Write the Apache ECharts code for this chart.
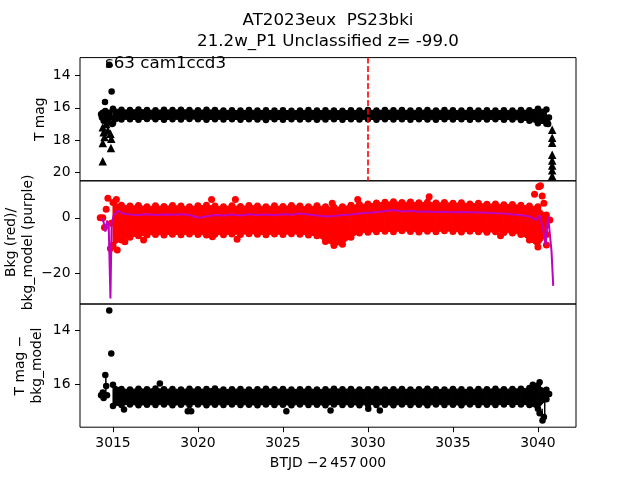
<!DOCTYPE html>
<html><head><meta charset="utf-8">
<script src="https://cdn.jsdelivr.net/npm/echarts@6/dist/echarts.min.js"></script>
<style>html,body{margin:0;padding:0;background:#fff}#c{width:640px;height:480px}</style>
</head><body><div id="c"></div>
<script>
// ---------- data ----------
const titleLine1 = 'AT2023eux  PS23bki';
const titleLine2 = '21.2w_P1 Unclassified z= -99.0';
const sectorText = 's63 cam1ccd3';
const xLabel = 'BTJD \u22122\u2009457\u2009000';
const xTicks = [3015, 3020, 3025, 3030, 3035, 3040];
const p1Ticks = [14, 16, 18, 20];
const p2Ticks = [-20, 0];
const p3Ticks = [14, 16];
const vline = 3030;

// time grid of the dense light-curve band
const t = [3015.0,3015.5,3016.0,3016.5,3017.0,3017.5,3018.0,3018.5,3019.0,3019.5,3020.0,3020.5,3021.0,3021.5,3022.0,3022.5,3023.0,3023.5,3024.0,3024.5,3025.0,3025.5,3026.0,3026.5,3027.0,3027.5,3028.0,3028.5,3029.0,3029.5,3030.0,3030.5,3031.0,3031.5,3032.0,3032.5,3033.0,3033.5,3034.0,3034.5,3035.0,3035.5,3036.0,3036.5,3037.0,3037.5,3038.0,3038.5,3039.0,3039.5,3040.0,3040.5];

// panel 1: T mag band (bright edge / faint edge)
const magHi = [16.05,16.12,16.14,16.10,16.13,16.15,16.12,16.14,16.11,16.13,16.15,16.12,16.14,16.16,16.15,16.17,16.14,16.16,16.15,16.17,16.15,16.18,16.16,16.14,16.17,16.15,16.16,16.18,16.15,16.17,16.14,16.16,16.13,16.15,16.14,16.16,16.15,16.13,16.16,16.14,16.15,16.17,16.14,16.16,16.15,16.17,16.15,16.16,16.14,16.15,16.05,16.10];
const magLo = [16.95,16.72,16.70,16.74,16.69,16.71,16.73,16.70,16.72,16.68,16.71,16.74,16.70,16.72,16.71,16.73,16.70,16.72,16.75,16.71,16.73,16.70,16.72,16.71,16.74,16.72,16.70,16.73,16.71,16.72,16.70,16.74,16.71,16.72,16.70,16.73,16.71,16.72,16.74,16.70,16.72,16.71,16.73,16.70,16.72,16.71,16.73,16.72,16.75,16.80,16.95,16.98];
// panel 1 isolated points
const p1x = [3014.30,3014.35,3014.40,3014.45,3014.50,3014.53,3014.55,3014.60,3014.65,3014.70,3014.78,3014.80,3014.85,3014.92,3014.95,3040.55,3040.60,3040.65];
const p1y = [16.40,16.60,16.30,16.80,16.50,15.64,16.20,16.70,16.40,16.90,13.34,16.30,16.60,14.99,17.00,16.90,17.00,16.60];
// panel 1 upper limits (triangles)
const ulx = [3014.40,3014.45,3014.50,3014.60,3014.70,3014.85,3014.90,3014.40,3014.88,3014.40,3040.84,3040.84,3040.84,3040.84,3040.84,3040.84,3040.84,3040.84];
const uly = [17.20,17.50,17.80,17.00,17.40,17.60,17.90,18.17,18.48,19.30,17.35,17.85,18.15,18.90,19.25,19.55,19.85,20.20];

// panel 2: background band (upper / lower edge)
const bkgHi = [5.5,4.5,4.2,4.4,4.0,4.3,4.1,4.4,4.2,4.0,4.3,4.5,4.2,4.0,4.3,4.1,4.4,4.2,4.0,4.3,4.1,4.4,4.2,4.0,4.3,4.0,3.8,4.0,4.5,4.8,5.0,5.3,5.6,5.8,5.5,5.7,5.4,5.6,5.3,5.5,5.2,5.4,5.0,5.2,4.9,5.0,4.7,4.8,4.5,4.2,4.0,1.0];
const bkgLo = [-10.0,-8.0,-7.0,-6.5,-6.2,-6.0,-6.2,-5.9,-6.1,-5.8,-6.0,-6.2,-5.9,-6.1,-5.8,-6.0,-5.7,-5.9,-6.1,-5.8,-6.0,-5.7,-5.9,-6.2,-6.5,-8.5,-10.0,-9.5,-7.0,-5.5,-5.2,-5.0,-4.8,-5.0,-4.7,-4.9,-5.1,-4.8,-5.0,-4.7,-4.9,-5.1,-4.8,-5.0,-5.2,-5.0,-5.3,-5.5,-6.0,-8.0,-10.5,-6.0];
// panel 2 isolated background points
const bx = [3014.25,3014.40,3014.50,3014.60,3014.70,3014.85,3014.90,3015.20,3015.25,3015.70,3016.80,3020.80,3020.85,3022.20,3022.30,3027.90,3029.40,3033.60,3037.80,3039.80,3040.05,3040.15,3040.25,3040.35,3040.50,3040.70];
const by = [0,0,-3.5,3.1,7,-11,-2,6.6,-11.6,-8.6,-8,6.6,-6.8,6.6,-7.7,5.2,6.6,7.6,-6.5,8.5,11.2,11.5,7.8,5.2,-9.8,-0.8];
// panel 2 background model (purple line)
const mx = [3014.30,3014.45,3014.55,3014.65,3014.75,3014.85,3014.92,3015.05,3015.30,3015.60,3016.0,3016.5,3017.0,3017.5,3018.0,3018.5,3019.0,3019.5,3020.0,3020.5,3021.0,3021.5,3022.0,3022.5,3023.0,3023.5,3024.0,3024.5,3025.0,3025.5,3026.0,3026.5,3027.0,3027.5,3028.0,3028.5,3029.0,3029.5,3030.0,3030.5,3031.0,3031.5,3032.0,3032.5,3033.0,3033.5,3034.0,3034.5,3035.0,3035.5,3036.0,3036.5,3037.0,3037.5,3038.0,3038.5,3039.0,3039.5,3039.9,3040.1,3040.3,3040.45,3040.6,3040.7,3040.8,3040.85,3040.9];
const my = [0.0,-1.5,-5.0,-1.0,-3.0,-29.0,-2.0,1.0,2.5,1.5,1.2,1.0,1.3,1.0,1.2,1.1,1.3,1.0,0.0,0.5,1.0,0.8,1.2,0.8,1.3,1.0,1.2,0.9,1.3,1.1,1.5,1.2,0.8,0.5,0.6,1.0,1.2,1.5,1.8,2.0,2.4,2.8,2.3,2.5,2.2,2.3,2.1,2.2,2.0,2.1,2.0,1.9,1.8,1.6,1.5,1.2,1.0,0.5,-0.8,0.8,-4.0,-9.8,0.5,0.0,-12.0,-12.0,-24.5];

// panel 3: T mag - bkg_model band
const dmHi = [16.02,16.17,16.19,16.16,16.18,16.15,16.18,16.17,16.19,16.16,16.18,16.17,16.15,16.19,16.18,16.17,16.19,16.18,16.16,16.18,16.17,16.19,16.18,16.17,16.19,16.18,16.16,16.18,16.17,16.19,16.18,16.17,16.19,16.18,16.17,16.19,16.18,16.16,16.18,16.19,16.17,16.18,16.19,16.17,16.18,16.16,16.18,16.17,16.16,16.14,16.05,16.20];
const dmLo = [16.80,16.76,16.74,16.77,16.75,16.76,16.74,16.77,16.75,16.76,16.74,16.77,16.75,16.76,16.74,16.76,16.75,16.77,16.74,16.76,16.75,16.77,16.74,16.76,16.75,16.77,16.74,16.76,16.75,16.77,16.74,16.76,16.75,16.77,16.74,16.76,16.75,16.77,16.74,16.76,16.75,16.77,16.74,16.76,16.75,16.76,16.74,16.75,16.74,16.76,16.90,16.55];
const p3x = [3014.30,3014.40,3014.45,3014.55,3014.60,3014.65,3014.78,3014.90,3015.65,3017.76,3019.40,3019.60,3025.20,3027.80,3030.02,3030.70,3039.70,3040.10,3040.10,3040.27,3040.35,3040.66];
const p3y = [16.40,16.30,16.50,15.66,16.06,16.40,13.28,14.86,16.93,15.97,16.99,16.99,16.99,16.96,16.90,16.96,16.02,15.92,17.07,17.33,17.20,16.36];
// panel 3 error bars (x, low, high)
const ebx = [3014.58, 3040.25, 3040.40];
const ebLo = [15.66, 16.90, 16.30];
const ebHi = [16.40, 17.38, 17.20];

// ---------- chart ----------
const FONT = 'DejaVu Sans';
const pairs = (xs, ys) => xs.map((x, i) => [x, ys[i]]);
const minus = v => String(v).replace('-', '\u2212');

const X0 = 3013.06, X1 = 3042.24;
const grids = [
  {left: 80, width: 496, top: 57.6, height: 123.2},
  {left: 80, width: 496, top: 180.8, height: 123.2},
  {left: 80, width: 496, top: 304, height: 123.2}
].map(g => Object.assign(g, {show: true, borderColor: '#000', borderWidth: 1, backgroundColor: 'transparent',
                             containLabel: false, outerBoundsMode: 'none'}));

function xAx(i, showTicks) {
  return {
    type: 'value', gridIndex: i, min: X0, max: X1,
    axisLine: {show: false}, splitLine: {show: false},
    axisTick: {show: showTicks, customValues: xTicks, length: 5, lineStyle: {color: '#000'}},
    axisLabel: {show: showTicks, customValues: xTicks, margin: 9, color: '#000', fontSize: 13.9, fontFamily: FONT, formatter: v => String(v)},
    name: showTicks ? xLabel : '', nameLocation: 'middle', nameGap: 29, nameMoveOverlap: false,
    nameTextStyle: {color: '#000', fontSize: 13.9, fontFamily: FONT}
  };
}
function yAx(i, min, max, ticks, inverse, name, gap) {
  return {
    type: 'value', gridIndex: i, min: min, max: max, inverse: inverse,
    axisLine: {show: false}, splitLine: {show: false},
    axisTick: {show: true, customValues: ticks, length: 5, lineStyle: {color: '#000'}},
    axisLabel: {customValues: ticks, margin: 9.5, color: '#000', fontSize: 13.9, fontFamily: FONT, formatter: minus},
    name: name, nameLocation: 'middle', nameRotate: 90, nameGap: gap, nameMoveOverlap: false,
    nameTextStyle: {color: '#000', fontSize: 13.9, fontFamily: FONT, lineHeight: 17}
  };
}

// dense band: filled polygon between the two edges (through axis coords) + dots on the edges
function band(i, a, b, color, dot) {
  const segs = t.slice(0, -1).map((x, k) => [x, a[k], b[k], t[k + 1], a[k + 1], b[k + 1]]);
  return [
    {type: 'custom', xAxisIndex: i, yAxisIndex: i, silent: true, z: 2,
     encode: {x: [0, 3], y: [1, 2, 4, 5]}, data: segs,
     renderItem: (params, api) => {
       const p0 = api.coord([api.value(0), api.value(1)]);
       const p1 = api.coord([api.value(3), api.value(4)]);
       const p2 = api.coord([api.value(3), api.value(5)]);
       const p3 = api.coord([api.value(0), api.value(2)]);
       return {type: 'polygon', shape: {points: [p0, p1, p2, p3]},
               style: {fill: color, stroke: color, lineWidth: 1}};
     }},
    {type: 'scatter', xAxisIndex: i, yAxisIndex: i, symbolSize: dot, itemStyle: {color: color, opacity: 1},
     data: pairs(t, a).concat(pairs(t, b)), silent: true, z: 3}
  ];
}

const series = [].concat(
  band(0, magHi, magLo, '#000', 6.5),
  [{type: 'scatter', xAxisIndex: 0, yAxisIndex: 0, symbolSize: 6.5, itemStyle: {color: '#000', opacity: 1}, data: pairs(p1x, p1y), z: 4,
    markLine: {symbol: 'none', silent: true, animation: false, label: {show: false},
      lineStyle: {color: '#ff0000', type: [6, 2.5], width: 1.6}, data: [{xAxis: vline}]}},
   {type: 'scatter', xAxisIndex: 0, yAxisIndex: 0, symbol: 'triangle', symbolSize: 8.5, itemStyle: {color: '#000', opacity: 1}, data: pairs(ulx, uly), z: 4}],
  band(1, bkgLo, bkgHi, '#ff0000', 7),
  [{type: 'scatter', xAxisIndex: 1, yAxisIndex: 1, symbolSize: 7, itemStyle: {color: '#ff0000', opacity: 1}, data: pairs(bx, by), z: 4},
   {type: 'line', xAxisIndex: 1, yAxisIndex: 1, symbol: 'none', lineStyle: {color: '#bf00bf', width: 2}, data: pairs(mx, my), z: 5}],
  band(2, dmHi, dmLo, '#000', 6.5),
  [{type: 'scatter', xAxisIndex: 2, yAxisIndex: 2, symbolSize: 6.5, itemStyle: {color: '#000', opacity: 1}, data: pairs(p3x, p3y), z: 4},
   {type: 'custom', xAxisIndex: 2, yAxisIndex: 2, silent: true, z: 4, encode: {x: 0, y: [1, 2]},
    data: ebx.map((x, k) => [x, ebLo[k], ebHi[k]]),
    renderItem: (params, api) => {
      const a = api.coord([api.value(0), api.value(1)]);
      const b = api.coord([api.value(0), api.value(2)]);
      return {type: 'line', shape: {x1: a[0], y1: a[1], x2: b[0], y2: b[1]}, style: {stroke: '#000', lineWidth: 1.5}};
    }}]
);

const chart = echarts.init(document.getElementById('c'), null, {renderer: 'canvas'});
chart.setOption({
  animation: false,
  backgroundColor: '#fff',
  grid: grids,
  xAxis: [xAx(0, false), xAx(1, false), xAx(2, true)],
  yAxis: [
    yAx(0, 12.9, 20.5, p1Ticks, true, 'T mag', 31),
    yAx(1, -31.0, 13.3, p2Ticks, false, 'Bkg (red)/\nbkg_model (purple)', 43),
    yAx(2, 13.04, 17.58, p3Ticks, true, 'T mag \u2212\nbkg_model', 34)
  ],
  series: series,
  graphic: [
    {type: 'text', x: 328, y: 21, style: {text: titleLine1, align: 'center', verticalAlign: 'middle', textAlign: 'center', textVerticalAlign: 'middle', fontSize: 16.7, fontFamily: FONT, fill: '#000'}},
    {type: 'text', x: 328, y: 42, style: {text: titleLine2, align: 'center', verticalAlign: 'middle', textAlign: 'center', textVerticalAlign: 'middle', fontSize: 16.7, fontFamily: FONT, fill: '#000'}},
    {type: 'text', x: 105, y: 64, z: 10, style: {text: sectorText, align: 'left', verticalAlign: 'middle', textAlign: 'left', textVerticalAlign: 'middle', fontSize: 16.7, fontFamily: FONT, fill: '#000'}}
  ]
});
</script></body></html>
